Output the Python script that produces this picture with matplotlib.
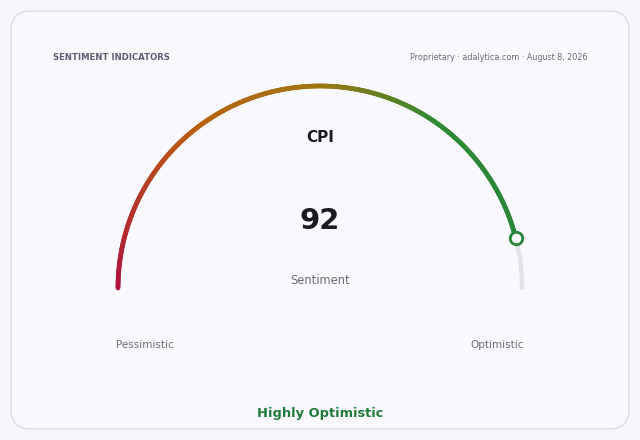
import numpy as np
import matplotlib
matplotlib.use("Agg")
import matplotlib.pyplot as plt
from matplotlib.collections import LineCollection
from matplotlib.colors import LinearSegmentedColormap
from matplotlib.patches import FancyBboxPatch

# data
title = "SENTIMENT INDICATORS"
source = "Proprietary · adalytica.com · August 8, 2026"
indicator = "CPI"
value = 92
vmin, vmax = 0, 100
sub_label = "Sentiment"
low_label = "Pessimistic"
high_label = "Optimistic"
verdict = "Highly Optimistic"

cmap = LinearSegmentedColormap.from_list(
    "gauge", [(0.0, "#b0123e"), (0.3, "#b9620f"), (0.5, "#9e760f"),
              (0.7, "#2e8a35"), (1.0, "#27853a")])

fig = plt.figure(figsize=(6.4, 4.4), dpi=100, facecolor="#f7f7fb")
ax = fig.add_axes([0, 0, 1, 1])
ax.set_xlim(0, 640)
ax.set_ylim(440, 0)
ax.set_aspect("equal")
ax.axis("off")

# card
card = FancyBboxPatch((11, 11), 618, 418, boxstyle="round,pad=0,rounding_size=20",
                      facecolor="#f9f9fd", edgecolor="#dedee8", linewidth=1.0)
ax.add_patch(card)

cx, cy, r = 320, 288, 202
frac = (value - vmin) / (vmax - vmin)

# grey remainder
th_rest = np.linspace(np.pi * (1 - frac), 0, 60)
ax.plot(cx + r * np.cos(th_rest), cy - r * np.sin(th_rest), color="#e3e3e8",
        lw=3.2, solid_capstyle="round", zorder=2)

# gradient value arc
n = 400
th = np.linspace(np.pi, np.pi * (1 - frac), n)
xs = cx + r * np.cos(th)
ys = cy - r * np.sin(th)
pts = np.array([xs, ys]).T.reshape(-1, 1, 2)
segs = np.concatenate([pts[:-1], pts[1:]], axis=1)
pos = np.linspace(0, frac, n - 1)
lc = LineCollection(segs, colors=cmap(pos), linewidths=3.4, capstyle="round", zorder=3)
ax.add_collection(lc)

# end marker
ax.plot(xs[-1], ys[-1], "o", ms=9, mfc="#f9f9fd", mec="#27853a", mew=2, zorder=4)

# texts
ax.text(53, 58, title, fontsize=6.1, fontweight="bold", color="#5c5c70", ha="left", va="center")
ax.text(587, 58, source, fontsize=5.8, color="#6a6a78", ha="right", va="center")
ax.text(cx, 137, indicator, fontsize=11, fontweight="bold", color="#1a1a22", ha="center", va="center")
ax.text(cx, 221, str(value), fontsize=21, fontweight="bold", color="#1a1a22", ha="center", va="center")
ax.text(cx, 281, sub_label, fontsize=8.3, color="#6b6b78", ha="center", va="center")
ax.text(145, 345, low_label, fontsize=7.5, color="#6b6b78", ha="center", va="center")
ax.text(497, 345, high_label, fontsize=7.5, color="#6b6b78", ha="center", va="center")
ax.text(cx, 414, verdict, fontsize=9.4, fontweight="bold", color="#1f7a3a", ha="center", va="center")

fig.savefig("out.png", dpi=100, facecolor=fig.get_facecolor())
